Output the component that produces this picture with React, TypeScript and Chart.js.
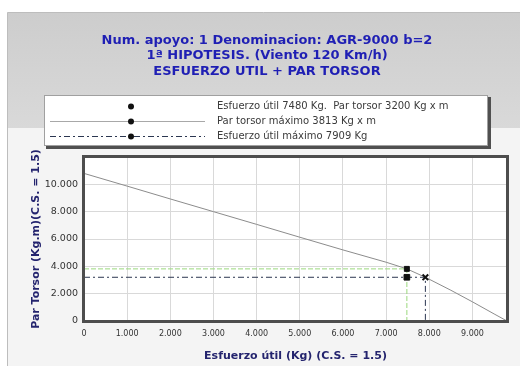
import React, { useEffect, useRef } from 'react';
import { Chart, registerables } from 'chart.js';

Chart.register(...registerables);

const titleLines = [
  'Num. apoyo: 1 Denominacion: AGR-9000 b=2',
  '1ª HIPOTESIS. (Viento 120 Km/h)',
  'ESFUERZO UTIL + PAR TORSOR',
];
const legendLabels = [
  'Esfuerzo útil 7480 Kg.  Par torsor 3200 Kg x m',
  'Par torsor máximo 3813 Kg x m',
  'Esfuerzo útil máximo 7909 Kg',
];
const xTitle = 'Esfuerzo útil (Kg) (C.S. = 1.5)';
const yTitle = 'Par Torsor (Kg.m)(C.S. = 1.5)';

const curveX = [0, 1000, 2000, 3000, 4000, 5000, 6000, 7000, 7480, 7909, 8500, 9000, 9500, 9800];
const curveY = [10800, 9870, 8930, 8000, 7070, 6130, 5200, 4300, 3813, 3200, 2250, 1400, 520, 0];

const workX = [7480];
const workY = [3200];

const torsorMaxX = [0, 7480, 7480];
const torsorMaxY = [3813, 3813, 0];

const esfMaxX = [0, 7909, 7909];
const esfMaxY = [3200, 3200, 0];

const xTicks = [0, 1000, 2000, 3000, 4000, 5000, 6000, 7000, 8000, 9000];
const yTicks = [0, 2000, 4000, 6000, 8000, 10000, 12000];
const xMin = 0;
const xMax = 9800;
const yMin = 0;
const yMax = 12000;

const FONT = "'DejaVu Sans', Verdana, sans-serif";

const fmt = (v: number) => String(Math.round(v)).replace(/\B(?=(\d{3})+(?!\d))/g, '.');
const zip = (xs: number[], ys: number[]) => xs.map((x, i) => ({ x, y: ys[i] }));

const decorPlugin = {
  id: 'decor',
  beforeDraw(chart: any) {
    const { ctx, width, height, chartArea } = chart;
    ctx.save();
    ctx.fillStyle = '#ffffff';
    ctx.fillRect(0, 0, width, height);
    ctx.fillStyle = '#f4f4f4';
    ctx.fillRect(7, 12, width - 7, height - 12);
    const g = ctx.createLinearGradient(0, 13, 0, 128);
    g.addColorStop(0, '#cdcdcd');
    g.addColorStop(1, '#d9d9d9');
    ctx.fillStyle = g;
    ctx.fillRect(8, 13, width - 8, 115);
    ctx.strokeStyle = '#bdbdbd';
    ctx.lineWidth = 1;
    ctx.beginPath();
    ctx.moveTo(7.5, height);
    ctx.lineTo(7.5, 12.5);
    ctx.lineTo(width, 12.5);
    ctx.stroke();
    ctx.fillStyle = '#ffffff';
    ctx.fillRect(chartArea.left, chartArea.top, chartArea.right - chartArea.left, chartArea.bottom - chartArea.top);
    ctx.restore();
  },
  afterDraw(chart: any) {
    const { ctx, chartArea } = chart;
    const ds = chart.data.datasets;
    ctx.save();
    ctx.strokeStyle = '#4d4d4d';
    ctx.lineWidth = 3;
    ctx.strokeRect(chartArea.left - 0.5, chartArea.top - 0.5, chartArea.right - chartArea.left + 1, chartArea.bottom - chartArea.top + 1);

    ctx.fillStyle = '#1f1fb4';
    ctx.font = `bold 13px ${FONT}`;
    ctx.textAlign = 'center';
    ctx.textBaseline = 'middle';
    const tY = [41, 56, 72];
    titleLines.forEach((t, i) => ctx.fillText(t, 267, tY[i]));

    const lx = 44, ly = 95, lw = 444, lh = 51;
    ctx.fillStyle = '#505050';
    ctx.fillRect(lx + 2, ly + 2, lw + 1, lh + 1);
    ctx.fillStyle = '#ffffff';
    ctx.fillRect(lx, ly, lw, lh);
    ctx.strokeStyle = '#a0a0a0';
    ctx.lineWidth = 1;
    ctx.strokeRect(lx + 0.5, ly + 0.5, lw - 1, lh - 1);

    const rows = [106, 121, 136];
    const legendSets = [ds[3], ds[1], ds[2]];
    legendSets.forEach((d: any, i: number) => {
      const y = rows[i];
      if (d.showLine) {
        ctx.strokeStyle = i === 1 ? '#a8a8a8' : d.borderColor;
        ctx.lineWidth = d.borderWidth;
        ctx.setLineDash(i === 1 ? [] : d.borderDash || []);
        ctx.beginPath();
        ctx.moveTo(50, y + 0.5);
        ctx.lineTo(205, y + 0.5);
        ctx.stroke();
        ctx.setLineDash([]);
      }
      ctx.fillStyle = '#111111';
      ctx.beginPath();
      ctx.arc(131, y + 0.5, 3, 0, Math.PI * 2);
      ctx.fill();
      ctx.fillStyle = '#3a3a3a';
      ctx.font = `10px ${FONT}`;
      ctx.textAlign = 'left';
      ctx.textBaseline = 'middle';
      ctx.fillText(legendLabels[i], 217, y + 0.5);
    });

    ctx.fillStyle = '#24246e';
    ctx.font = `bold 11px ${FONT}`;
    ctx.textAlign = 'center';
    ctx.textBaseline = 'middle';
    ctx.fillText(xTitle, (chartArea.left + chartArea.right) / 2, 356);
    ctx.translate(36, (chartArea.top + chartArea.bottom) / 2);
    ctx.rotate(-Math.PI / 2);
    ctx.fillText(yTitle, 0, 0);
    ctx.restore();
  },
};

export default function App() {
  const ref = useRef<HTMLCanvasElement | null>(null);
  useEffect(() => {
    document.body.style.margin = '0';
    if (!ref.current) return;
    const chart = new Chart(ref.current, {
      type: 'scatter',
      data: {
        datasets: [
          {
            label: 'curva',
            data: zip(curveX, curveY),
            showLine: true,
            borderColor: '#8c8c8c',
            borderWidth: 1,
            pointRadius: 0,
            order: 4,
          },
          {
            label: legendLabels[1],
            data: zip(torsorMaxX, torsorMaxY),
            showLine: true,
            borderColor: '#9bd87e',
            borderWidth: 1,
            borderDash: [5, 2],
            pointStyle: 'rect',
            pointRadius: [0, 3.5, 0],
            pointBackgroundColor: '#111111',
            pointBorderColor: '#111111',
            order: 3,
          },
          {
            label: legendLabels[2],
            data: zip(esfMaxX, esfMaxY),
            showLine: true,
            borderColor: '#2b3650',
            borderWidth: 1,
            borderDash: [6, 3, 2, 3],
            pointStyle: 'crossRot',
            pointRadius: [0, 4, 0],
            pointBorderWidth: 2,
            pointBorderColor: '#111111',
            order: 2,
          },
          {
            label: legendLabels[0],
            data: zip(workX, workY),
            showLine: false,
            pointStyle: 'rect',
            pointRadius: 4,
            pointBackgroundColor: '#111111',
            pointBorderColor: '#111111',
            order: 1,
          },
        ],
      },
      options: {
        animation: false,
        responsive: false,
        layout: { padding: { top: 157, right: 13, left: 0, bottom: 0 } },
        plugins: {
          legend: { display: false },
          title: { display: false },
          tooltip: { enabled: false },
        },
        scales: {
          x: {
            type: 'linear',
            min: xMin,
            max: xMax,
            afterFit: (s: any) => { s.height = 45; },
            afterBuildTicks: (s: any) => { s.ticks = xTicks.map((v) => ({ value: v })); },
            grid: { color: '#d9d9d9', drawTicks: false },
            border: { display: false },
            ticks: {
              padding: 8,
              maxRotation: 0,
              autoSkip: false,
              color: '#333333',
              font: { family: FONT, size: 8 },
              callback: (v: any) => fmt(Number(v)),
            },
          },
          y: {
            type: 'linear',
            min: yMin,
            max: yMax,
            afterFit: (s: any) => { s.width = 84; },
            afterBuildTicks: (s: any) => { s.ticks = yTicks.map((v) => ({ value: v })); },
            grid: { color: '#d9d9d9', drawTicks: false },
            border: { display: false },
            ticks: {
              padding: 6,
              autoSkip: false,
              color: '#333333',
              font: { family: FONT, size: 9.5 },
              callback: (v: any) => (Number(v) >= yMax ? '' : fmt(Number(v))),
            },
          },
        },
      },
      plugins: [decorPlugin],
    });
    return () => chart.destroy();
  }, []);
  return (
    <div style={{ width: 520, height: 366 }}>
      <canvas ref={ref} width={520} height={366} />
    </div>
  );
}
